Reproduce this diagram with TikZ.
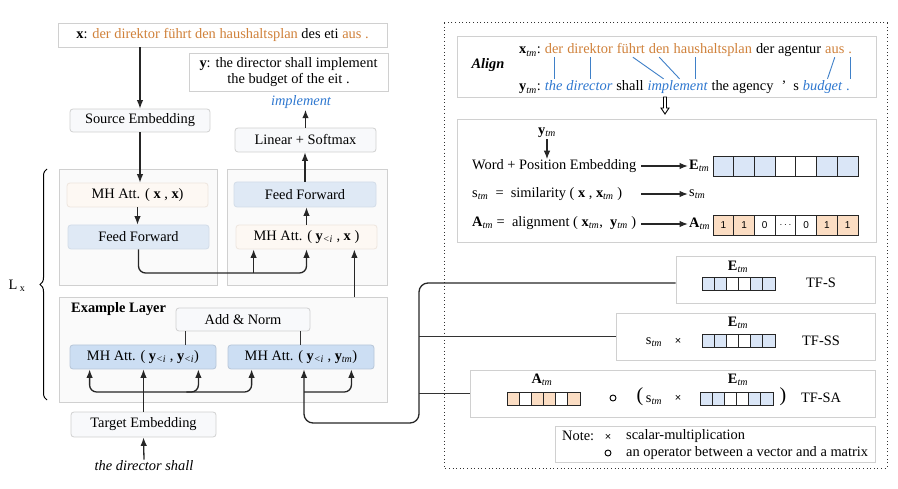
\documentclass[tikz,border=0pt]{standalone}
\usepackage{fontspec}
\setmainfont{Liberation Serif}
\setsansfont{Liberation Sans}
\usetikzlibrary{arrows.meta,calc,decorations.pathreplacing}
\definecolor{tor}{HTML}{D0813A}
\definecolor{tbl}{HTML}{2F78D0}
\definecolor{alblue}{HTML}{3F80C8}
\definecolor{lgfill}{HTML}{F8F9FB}
\definecolor{contfill}{HTML}{FAFAFA}
\definecolor{attfill}{HTML}{FDF8F3}
\definecolor{attdraw}{HTML}{EEE6DE}
\definecolor{fffill}{HTML}{DFE9F5}
\definecolor{ffdraw}{HTML}{D2DCE8}
\definecolor{exfill}{HTML}{CCDEF3}
\definecolor{exdraw}{HTML}{B7C6D8}
\definecolor{eb}{HTML}{DAE6F7}
\definecolor{of}{HTML}{FBDDC3}
\definecolor{bord}{HTML}{D0D0D0}
\newcommand{\mysub}[1]{\textsubscript{\itshape #1}}
\newcommand{\vecrow}[5]{\foreach \f [count=\i from 0] in {#5} \draw[cell, fill=\f] ({#1+\i*#3},#2) rectangle ++(#3,#4);}
\tikzset{
 box/.style={draw=bord, line width=0.8pt, rounded corners=3pt, inner sep=0pt, align=center},
 lbox/.style={box, fill=lgfill},
 cont/.style={draw=bord, line width=0.9pt, fill=contfill, inner sep=0pt},
 attbox/.style={box, draw=attdraw, fill=attfill},
 ffbox/.style={box, draw=ffdraw, fill=fffill},
 exbox/.style={box, draw=exdraw, fill=exfill},
 sqbox/.style={draw=bord, line width=0.9pt, fill=white, inner sep=0pt, align=center},
 arr/.style={line width=1.3pt, draw=black!85, -{Latex[length=8.5pt,width=6.5pt]}},
 dbl/.style={line width=1.3pt, draw=black!85, {Latex[length=8.5pt,width=6.5pt]}-{Latex[length=8.5pt,width=6.5pt]}},
 ln/.style={line width=1.3pt, draw=black!80},
 wd/.style={inner sep=0pt, anchor=base west, text height=12pt, text depth=3pt},
 al/.style={draw=alblue, line width=0.9pt},
 lbl/.style={inner sep=1pt},
 cell/.style={draw=black!85, line width=0.9pt},
 cellnode/.style={draw=black!85, line width=0.9pt, minimum width=20.71pt, minimum height=20pt, inner sep=0pt, font=\sffamily\fontsize{10}{10}\selectfont},
 opc/.style={circle, draw=black, line width=0.9pt, minimum size=6pt, inner sep=0pt},
 tms/.style={inner sep=0pt, font=\sffamily\fontsize{11}{11}\selectfont},
}
\begin{document}
\begin{tikzpicture}[x=1pt,y=-1pt,font=\fontsize{14.4pt}{17pt}\selectfont]
\useasboundingbox (0,0) rectangle (898,489);
% ---------- left part ----------
\node[sqbox, minimum width=329pt, minimum height=24pt] (xsent) at (222.5,35) {\textbf{x}: \textcolor{tor}{der direktor führt den haushaltsplan} des eti \textcolor{tor}{aus .}};
\node[sqbox, minimum width=199pt, minimum height=38pt, font=\fontsize{14.4pt}{16pt}\selectfont] (ysent) at (288.5,72) {\textbf{y}: the director shall implement\\the budget of the eit .};
\node[lbl, text=tbl, font=\fontsize{14.4pt}{17pt}\selectfont\itshape] (impl) at (301,102) {implement};
\node[lbox, minimum width=140pt, minimum height=23pt] (srcemb) at (140,120.5) {Source Embedding};
\node[lbox, minimum width=141pt, minimum height=24pt] (linsm) at (305.5,140) {Linear + Softmax};
\node[cont, minimum width=158pt, minimum height=116pt] (enc) at (138,227) {};
\node[cont, minimum width=160pt, minimum height=116pt] (dec) at (307,227) {};
\node[attbox, minimum width=141pt, minimum height=24pt] (mhxx) at (137.5,195) {MH Att. ( \textbf{x} , \textbf{x})};
\node[ffbox, minimum width=141pt, minimum height=24pt] (ffl) at (138.5,237) {Feed Forward};
\node[ffbox, minimum width=142pt, minimum height=25pt] (ffr) at (305,194.5) {Feed Forward};
\node[attbox, minimum width=141pt, minimum height=24pt] (mhyx) at (306.5,237) {MH Att. ( \textbf{y}\mysub{<i} , \textbf{x} )};
\node[cont, minimum width=328pt, minimum height=105pt] (exl) at (223,349.5) {};
\node[inner sep=0pt, anchor=west, font=\fontsize{14.4pt}{17pt}\selectfont\bfseries] (exlt) at (71,309) {Example Layer};
\node[lbox, minimum width=134pt, minimum height=23pt] (addnorm) at (243,319.5) {Add \& Norm};
\node[exbox, minimum width=146pt, minimum height=24pt] (mhyy) at (143,357) {MH Att. ( \textbf{y}\mysub{<i} , \textbf{y}\mysub{<i})};
\node[exbox, minimum width=146pt, minimum height=24pt] (mhyt) at (301,357) {MH Att. ( \textbf{y}\mysub{<i} , \textbf{y}\mysub{tm})};
\node[lbox, minimum width=145pt, minimum height=25pt] (tgtemb) at (143.5,424.5) {Target Embedding};
\node[lbl, font=\fontsize{14.4pt}{17pt}\selectfont\itshape] (tds) at (144,466) {the director shall};
\draw[line width=1pt, decorate, decoration={brace, amplitude=7pt}] (47,400) -- (47,169);
\node[inner sep=0pt] (lx) at (17,286) {L\,\textsubscript{x}};
% connectors left
\draw[arr] (srcemb.north |- xsent.south) -- (srcemb.north);
\draw[arr] (srcemb.south) -- (srcemb.south |- mhxx.north);
\draw[arr] (mhxx.south) -- (mhxx.south |- ffl.north);
\coordinate (j1) at (0,273);
\coordinate (j2) at (0,392);
\coordinate (j3) at (0,423);
\coordinate (busx) at (419,0);
\draw[arr, rounded corners=7pt] (ffl.south) |- (mhyx.south |- j1) -- (mhyx.south);
\coordinate (b1) at ([xshift=18pt]mhyx.south west);
\draw[arr] (b1 |- j1) -- (b1);
\draw[arr] (mhyx.north) -- (mhyx.north |- ffr.south);
\draw[arr] (ffr.north) -- (ffr.north |- linsm.south);
\draw[arr] (linsm.north) -- (linsm.north |- impl.south);
\coordinate (b2) at ([xshift=-23pt]mhyx.south east);
\draw[arr] (b2 |- exl.north) -- (b2);
\coordinate (n1) at ([xshift=10pt]addnorm.south west);
\coordinate (n2) at ([xshift=-10pt]addnorm.south east);
\draw[ln] (n1) -- (n1 |- mhyy.north);
\draw[ln] (n2) -- (n2 |- mhyt.north);
\draw[arr] (tds.north) -- (tgtemb.south);
\draw[arr] (tgtemb.north) -- (tgtemb.north |- mhyy.south);
\coordinate (c90) at ([xshift=20pt]mhyy.south west);
\coordinate (c198) at ([xshift=-18pt]mhyy.south east);
\coordinate (c252) at ([xshift=24pt]mhyt.south west);
\coordinate (c304) at ([xshift=3pt]mhyt.south);
\coordinate (c351) at ([xshift=-23pt]mhyt.south east);
\draw[dbl, rounded corners=7pt] (c90) |- (c252 |- j2) -- (c252);
\draw[arr, rounded corners=7pt] ($(c198 |- j2)+(-12,0)$) -| (c198);
\draw[arr, rounded corners=7pt] (c304 |- j2) -| (c351);
% ---------- right part ----------
\draw[line width=1pt, dash pattern=on 1pt off 2.6pt, draw=black!80] (444,23) rectangle (887,468);
\node[sqbox, minimum width=419pt, minimum height=61pt] (alignbox) at (666.5,66.5) {};
\node[inner sep=0pt, font=\fontsize{14.4pt}{17pt}\selectfont\bfseries\itshape] (alignt) at (488,65) {Align};
\def\spc{3.6pt}
\node[wd] (xl) at (519,54) {\textbf{x}\mysub{tm}:};
\node[wd, text=tor] (w1) at ([xshift=\spc]xl.base east) {der};
\node[wd, text=tor] (w2) at ([xshift=\spc]w1.base east) {direktor};
\node[wd, text=tor] (w3) at ([xshift=\spc]w2.base east) {führt};
\node[wd, text=tor] (w4) at ([xshift=\spc]w3.base east) {den};
\node[wd, text=tor] (w5) at ([xshift=\spc]w4.base east) {haushaltsplan};
\node[wd] (w6) at ([xshift=\spc]w5.base east) {der agentur};
\node[wd, text=tor] (w7) at ([xshift=\spc]w6.base east) {aus};
\node[wd, text=tor] (w8) at ([xshift=\spc]w7.base east) {.};
\node[wd] (yl) at (519,91) {\textbf{y}\mysub{tm}:};
\node[wd, text=tbl, font=\fontsize{14.4pt}{17pt}\selectfont\itshape] (v1) at ([xshift=\spc]yl.base east) {the};
\node[wd, text=tbl, font=\fontsize{14.4pt}{17pt}\selectfont\itshape] (v2) at ([xshift=\spc]v1.base east) {director};
\node[wd] (v3) at ([xshift=\spc]v2.base east) {shall};
\node[wd, text=tbl, font=\fontsize{14.4pt}{17pt}\selectfont\itshape] (v4) at ([xshift=\spc]v3.base east) {implement};
\node[wd] (v5) at ([xshift=\spc]v4.base east) {the agency\hspace{8pt}’\hspace{7pt}s};
\node[wd, text=tbl, font=\fontsize{14.4pt}{17pt}\selectfont\itshape] (v6) at ([xshift=\spc]v5.base east) {budget};
\node[wd, text=tbl] (v7) at ([xshift=\spc]v6.base east) {.};
\draw[al] (w1.south) -- (w1.south |- v1.north);
\draw[al] (w2.south) -- (w2.south |- v2.north);
\draw[al] ([xshift=2pt]w3.south) -- ([xshift=-14pt]v4.north);
\draw[al] (w4.south) -- ([xshift=2pt]v4.north);
\coordinate (q5) at ([xshift=18pt]v4.north);
\draw[al] (q5 |- w5.south) -- (q5);
\draw[al] (w7.south) -- ([xshift=5pt]v6.north);
\draw[al] (w8.south) -- (w8.south |- v7.north);
% hollow down arrow between the two boxes
\draw[line width=0.9pt, fill=white, line join=miter] (663.5,97) -- (666.5,97) -- (666.5,108) -- (669,108) -- (665,114) -- (661,108) -- (663.5,108) -- cycle;
\node[sqbox, minimum width=419pt, minimum height=123pt] (embbox) at (666.5,180.5) {};
\node[lbl] (ytm) at (547,133) {\textbf{y}\mysub{tm}};
\node[inner sep=0pt, anchor=west] (wpe) at (472,166) {Word + Position Embedding};
\draw[arr] (ytm.south) -- (ytm.south |- wpe.north);
\node[inner sep=0pt, anchor=west] (simt) at (472,194) {s\mysub{tm}\ \ =\ \ similarity ( \textbf{x} , \textbf{x}\mysub{tm} )};
\node[inner sep=0pt, anchor=west] (alit) at (472,223) {\textbf{A}\mysub{tm}\ =\ \ alignment ( \textbf{x}\mysub{tm},\ \ \textbf{y}\mysub{tm} )};
\node[lbl, anchor=west] (etm) at (688,166) {\textbf{E}\mysub{tm}};
\node[lbl, anchor=west] (stm) at (688,194) {s\mysub{tm}};
\node[lbl, anchor=west] (atm) at (688,224) {\textbf{A}\mysub{tm}};
\coordinate (a0) at (641,166);
\draw[arr] (a0) -- (etm.west);
\draw[arr] (a0 |- stm.west) -- (stm.west);
\draw[arr] (a0 |- atm.west) -- (atm.west);
\vecrow{713}{156}{20.71}{20}{eb,eb,eb,white,white,eb,eb}
\foreach \f/\t [count=\i from 0] in {of/1,of/1,white/0,white/{$\cdots$},white/0,of/1,of/1}
  \node[cellnode, fill=\f] (ac\i) at ({713+(\i+0.5)*20.71},225) {\t};
% TF boxes
\node[sqbox, minimum width=199pt, minimum height=47pt] (tfs) at (775.5,279.5) {};
\node[sqbox, minimum width=259pt, minimum height=47pt] (tfss) at (745.5,336.5) {};
\node[sqbox, minimum width=405pt, minimum height=47pt] (tfsa) at (672.5,393.5) {};
\node[sqbox, minimum width=320pt, minimum height=36pt] (note) at (715,444) {};
% TF-S
\node[lbl] (e1) at (738,267) {\textbf{E}\mysub{tm}};
\vecrow{702}{277}{12.17}{13}{eb,eb,white,white,eb,eb}
\node[lbl] (tfst) at (821,283) {TF-S};
% TF-SS
\node[lbl] (e2) at (738,323) {\textbf{E}\mysub{tm}};
\vecrow{702}{334}{12.17}{13}{eb,eb,white,white,eb,eb}
\node[lbl] (s2) at (654,342) {s\mysub{tm}};
\node[tms] (x2) at (678,341) {×};
\node[lbl] (tfsst) at (821,341) {TF-SS};
% TF-SA
\node[lbl] (a3) at (542,380) {\textbf{A}\mysub{tm}};
\vecrow{507}{392}{12.17}{13}{of,white,of,of,white,of}
\node[opc] (o3) at (613,398) {};
\node[inner sep=0pt, font=\fontsize{20pt}{20pt}\selectfont] (lp) at (640,397) {(};
\node[lbl] (s3) at (654,400) {s\mysub{tm}};
\node[tms] (x3) at (678,398) {×};
\node[lbl] (e3) at (738,380) {\textbf{E}\mysub{tm}};
\vecrow{700}{392}{12.17}{13}{eb,eb,white,white,eb,eb}
\node[inner sep=0pt, font=\fontsize{20pt}{20pt}\selectfont] (rp) at (783,397) {)};
\node[lbl] (tfsat) at (821,398) {TF-SA};
% note
\node[inner sep=0pt, anchor=west] (notet) at (562,436) {Note:};
\node[tms] (nx) at (608,437) {×};
\node[inner sep=0pt, anchor=west] (nt1) at (626,436) {scalar-multiplication};
\node[opc] (no) at (608,453) {};
\node[inner sep=0pt, anchor=west] (nt2) at (626,453) {an operator between a vector and a matrix};
% bus connectors
\draw[arr, rounded corners=9pt] ([yshift=-3.5pt]tfs.west) -| (busx |- j3) -| (c304);
\draw[ln] (tfss.west) -- (tfss.west -| busx);
\draw[ln] (tfsa.west) -- (tfsa.west -| busx);
\end{tikzpicture}
\end{document}
